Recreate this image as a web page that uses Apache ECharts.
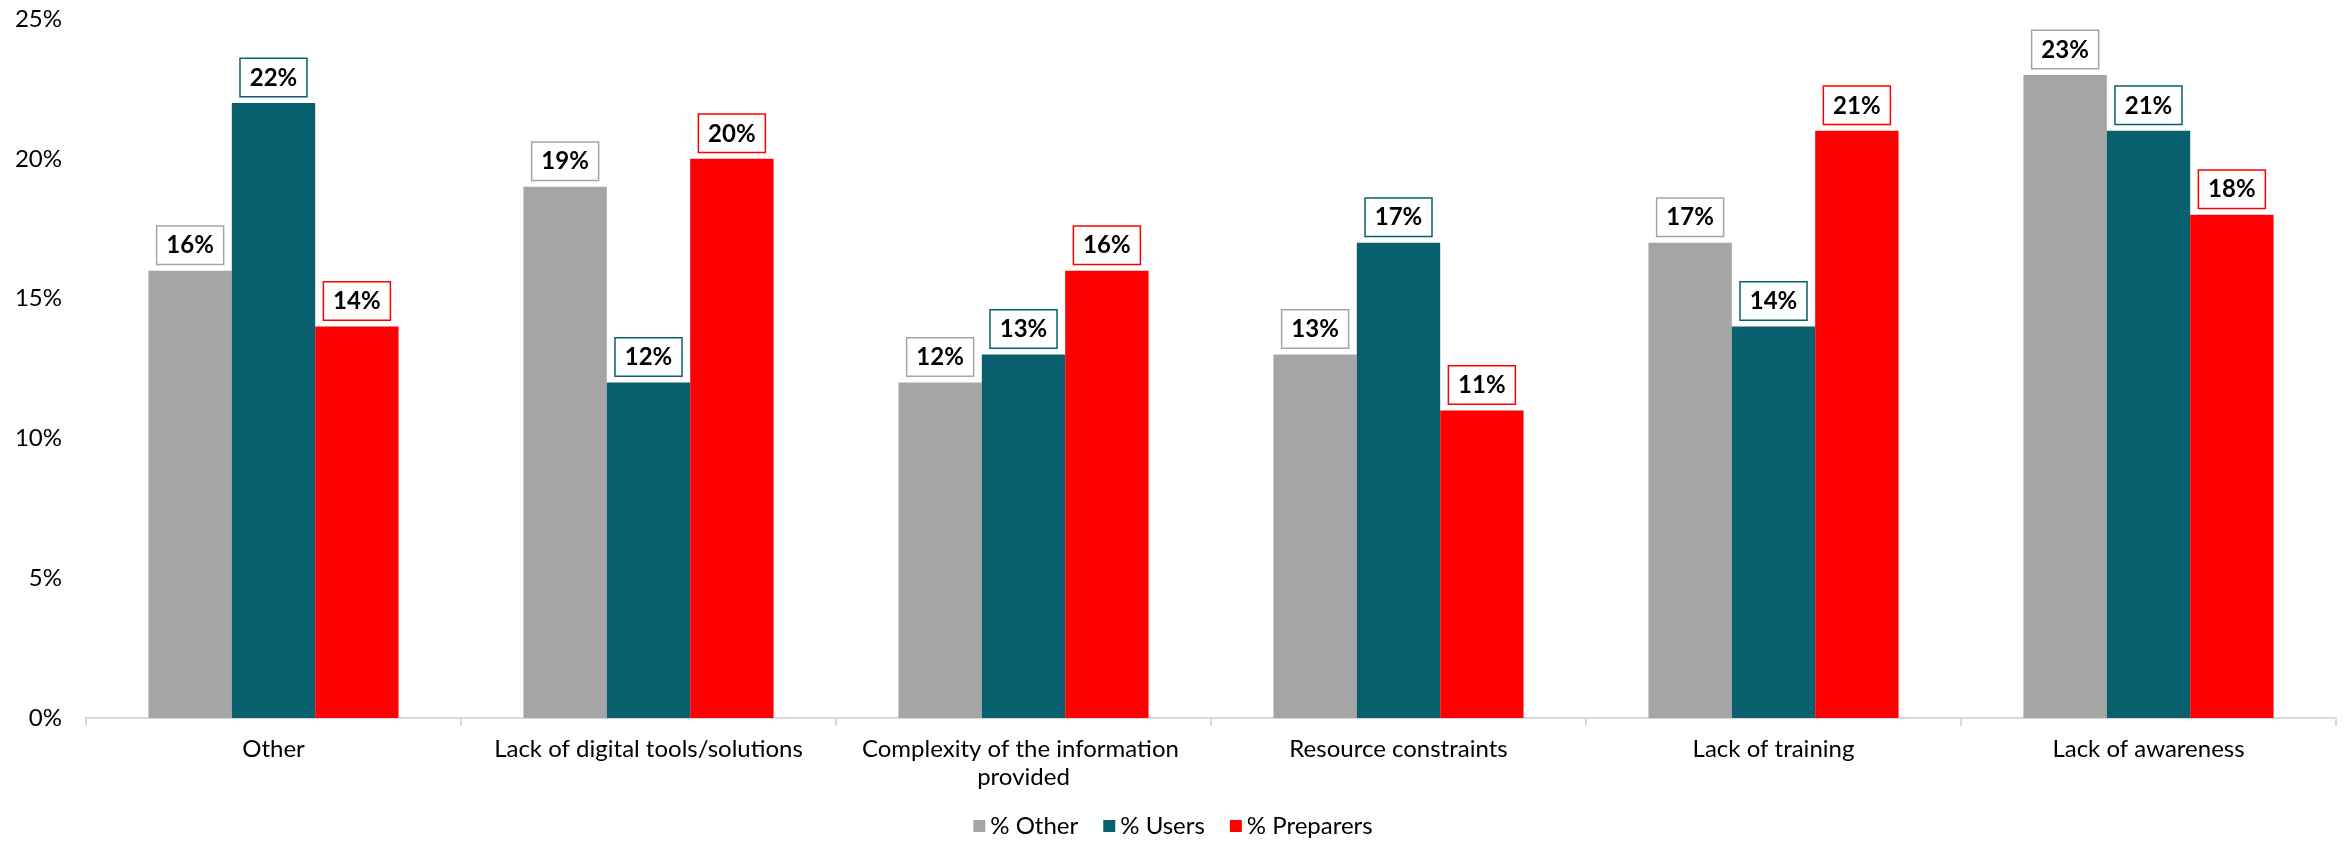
<!DOCTYPE html>
<html>
<head>
<meta charset="utf-8">
<script src="https://cdn.jsdelivr.net/npm/echarts@6/dist/echarts.min.js"></script>
<style>
html, body { margin: 0; padding: 0; background: #fff; }
#chart { width: 2346px; height: 843px; }
</style>
</head>
<body>
<div id="chart"></div>
<script>
// categories and values (percent)
var categories = ["Other", "Lack of digital tools/solutions", "Complexity of the information provided", "Resource constraints", "Lack of training", "Lack of awareness"];
var otherPct = [16, 19, 12, 13, 17, 23];
var usersPct = [22, 12, 13, 17, 14, 21];
var preparersPct = [14, 20, 16, 11, 21, 18];
var yTicks = [0, 5, 10, 15, 20, 25];

var FONT = "Lato, 'Open Sans', sans-serif";

function mkSeries(name, data, color) {
	return {
		name : name,
		type : "bar",
		data : data,
		barGap : "0%",
		barCategoryGap : "33.3%",
		itemStyle : { color : color },
		label : {
			show : true,
			position : "top",
			distance : 7,
			formatter : "{c}%",
			fontFamily : FONT,
			fontWeight : "bold",
			fontSize : 24,
			color : "#000",
			lineHeight : 26,
			backgroundColor : "#fff",
			borderColor : color,
			borderWidth : 1.5,
			padding : [6, 9, 5, 9]
		}
	};
}

var chart = echarts.init(document.getElementById("chart"));
var option = {
	animation : false,
	textStyle : { fontFamily : FONT },
	grid : { left : 86, right : 10, top : 19, bottom : 125, containLabel : false },
	legend : {
		top : 809,
		left : "center",
		itemWidth : 12,
		itemHeight : 12,
		itemGap : 25,
		icon : "rect",
		textStyle : { fontFamily : FONT, fontSize : 24, color : "#000" },
		data : ["% Other", "% Users", "% Preparers"]
	},
	xAxis : {
		type : "category",
		data : categories,
		axisLine : { lineStyle : { color : "#D9D9D9", width : 2 } },
		axisTick : { show : true, length : 8, lineStyle : { color : "#D9D9D9", width : 2 } },
		axisLabel : {
			interval : 0,
			margin : 17,
			fontFamily : FONT,
			fontSize : 24,
			lineHeight : 28,
			color : "#000",
			width : 340,
			overflow : "break"
		}
	},
	yAxis : {
		type : "value",
		min : yTicks[0],
		max : yTicks[yTicks.length - 1],
		interval : 5,
		splitLine : { show : false },
		axisLine : { show : false },
		axisTick : { show : false },
		axisLabel : {
			margin : 24,
			formatter : "{value}%",
			fontFamily : FONT,
			fontSize : 24,
			color : "#000"
		}
	},
	series : [
		mkSeries("% Other", otherPct, "#A5A5A5"),
		mkSeries("% Users", usersPct, "#085F6E"),
		mkSeries("% Preparers", preparersPct, "#FF0000")
	]
};
chart.setOption(option);
</script>
</body>
</html>
